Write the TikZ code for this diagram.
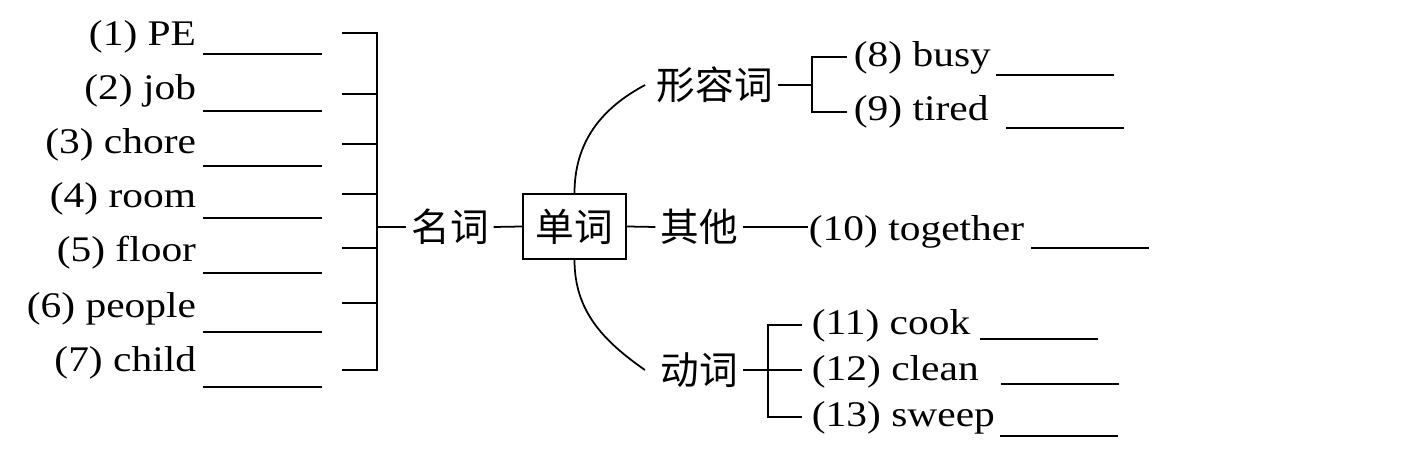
\documentclass[tikz,border=0pt]{standalone}
\usepackage{fontspec}
\setmainfont{Liberation Serif}[FakeStretch=1.15]
\newfontfamily\cjk{Noto Sans CJK SC}
\newcommand{\blank}[3][1.18]{\hspace{#2cm}\rule[-#3cm]{#1cm}{0.6pt}}
\tikzset{
  item/.style={inner sep=0pt,font=\fontsize{10.25pt}{12pt}\selectfont},
  cword/.style={inner sep=0.04cm,font=\cjk\fontsize{11pt}{13pt}\selectfont},
}

\begin{document}
\begin{tikzpicture}[x=0.01cm,y=-0.01cm,line width=0.5pt]
   \useasboundingbox (0,0) rectangle (1415,458);
   \begin{scope}[every node/.style={item,anchor=base east}]
    \node (n1) at (323,46) {(1) PE\blank[1.19]{0.07}{0.09}};
    \node (n2) at (323,100) {(2) job\blank[1.19]{0.07}{0.12}};
    \node (n3) at (323,154) {(3) chore\blank[1.19]{0.07}{0.13}};
    \node (n4) at (323,208) {(4) room\blank[1.19]{0.07}{0.11}};
    \node (n5) at (323,262) {(5) floor\blank[1.19]{0.07}{0.12}};
    \node (n6) at (323,318) {(6) people\blank[1.19]{0.07}{0.15}};
    \node (n7) at (323,372) {(7) child\blank[1.19]{0.07}{0.16}};
   \end{scope}
   \begin{scope}[every node/.style={item,anchor=base west}]
    \node (a8) at (853,67) {(8) busy\blank{0.05}{0.09}};
    \node (a9) at (853,121) {(9) tired\blank{0.17}{0.08}};
    \node (o10) at (808,241) {(10) together\blank{0.07}{0.08}};
    \node (v11) at (811,335) {(11) cook\blank{0.10}{0.05}};
    \node (v12) at (811,381) {(12) clean\blank{0.22}{0.04}};
    \node (v13) at (811,427) {(13) sweep\blank{0.05}{0.10}};
   \end{scope}
   \begin{scope}[every node/.style={cword}]
    \node (noun) at (450,227) {名词};
    \node[draw,minimum width=1.03cm,minimum height=0.65cm] (word) at (574.5,226.5) {单词};
    \node (adj) at (715,85) {形容词};
    \node (other) at (699,227) {其他};
    \node (verb) at (699.5,370) {动词};
   \end{scope}
   \coordinate (t1) at (342,33);
   \coordinate (t2) at (342,94);
   \coordinate (t3) at (342,144);
   \coordinate (t4) at (342,194);
   \coordinate (t5) at (342,248);
   \coordinate (t6) at (342,303);
   \coordinate (t7) at (342,370);
   \coordinate (ns) at (377,227);
   \coordinate (as) at (812,85);
   \coordinate (ta8) at (847,57);
   \coordinate (ta9) at (847,112);
   \coordinate (vs) at (768,370);
   \coordinate (tv11) at (802,325);
   \coordinate (tv12) at (802,370);
   \coordinate (tv13) at (802,417);
   \draw (t1) -- (t1 -| ns) -- (t7 -| ns) -- (t7);
   \draw (t2) -- (t2 -| ns);
   \draw (t3) -- (t3 -| ns);
   \draw (t4) -- (t4 -| ns);
   \draw (t5) -- (t5 -| ns);
   \draw (t6) -- (t6 -| ns);
   \draw (ns) -- (noun.west);
   \draw (noun.east) -- (word.west);
   \draw (word.east) -- (other.west);
   \draw (other.east) -- (other.east -| o10.west);
   \draw (word.north) to[out=90,in=208] ([xshift=-0.07cm]adj.west);
   \draw (word.south) to[out=-90,in=145] ([xshift=-0.11cm]verb.west);
   \draw (adj.east) -- (as);
   \draw (ta8) -| (as) |- (ta9);
   \draw (verb.east) -- (tv12);
   \draw (tv11) -| (vs) |- (tv13);
\end{tikzpicture}
\end{document}
